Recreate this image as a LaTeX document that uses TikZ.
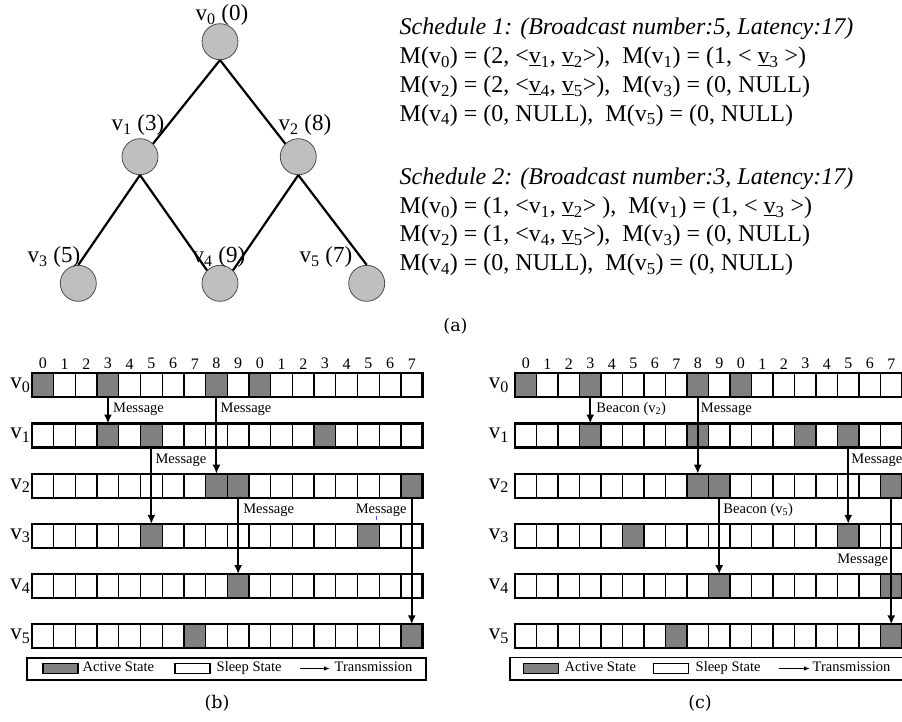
\documentclass[tikz,border=0pt]{standalone}
\usepackage{fontspec}
\setmainfont{Liberation Serif}
\newfontfamily\capfont{DejaVu Serif}
\usetikzlibrary{arrows.meta}
\usetikzlibrary{positioning}

\tikzset{
  treenode/.style={circle, draw=black!70, fill=gray!50, line width=0.8pt,
                   minimum size=36pt, inner sep=0pt},
  treelabel/.style={font=\fontsize{23}{25}\selectfont, inner sep=0pt},
  treeedge/.style={line width=2.2pt},
  schedline/.style={font=\fontsize{24}{28}\selectfont, anchor=base west, inner sep=0pt},
  slot/.style={draw, line width=1.3pt, fill=white, inner sep=0pt, outer sep=0pt,
               minimum height=24pt},
  activeslot/.style={draw, line width=1.3pt, fill=gray},
  rowframe/.style={draw, line width=2.3pt},
  rowlabel/.style={font=\fontsize{23}{25}\selectfont, inner sep=0pt},
  slotnum/.style={font=\fontsize{16}{18}\selectfont, inner sep=0pt},
  msg/.style={-{Latex[length=9pt,width=8pt]}, line width=2pt},
  msglabel/.style={font=\fontsize{14.5}{16}\selectfont, inner sep=1pt,
                   text height=0.7em, text depth=0.2em},
  keyframe/.style={draw, line width=1.5pt},
  keybox/.style={draw, line width=1.2pt, minimum width=35pt, minimum height=10pt,
                 inner sep=0pt},
  keytext/.style={font=\fontsize{14.5}{16}\selectfont, inner sep=0pt, anchor=west,
                  text height=0.7em, text depth=0.2em},
  keyarrow/.style={-{Latex[length=6pt,width=4.5pt]}, line width=1.2pt},
  caption/.style={font=\capfont\fontsize{17.5}{20}\selectfont, inner sep=0pt}
}

\begin{document}
\begin{tikzpicture}[x=1pt,y=-1pt]
\useasboundingbox (0,0) rectangle (902,721);

% (a) the tree
\node[treenode] (v0) at (220,41.7) {};
\node[treenode] (v1) at (140,156.7) {};
\node[treenode] (v2) at (298.3,156.7) {};
\node[treenode] (v3) at (78.3,283.3) {};
\node[treenode] (v4) at (220,283.3) {};
\node[treenode] (v5) at (366.7,283.3) {};

\draw[treeedge] (v0.south) -- (v1.north east);
\draw[treeedge] (v0.south) -- (v2.north west);
\draw[treeedge] (v1.south) -- (v3.north);
\draw[treeedge] (v1.south) -- (v4.north west);
\draw[treeedge] (v2.south) -- (v4.north east);
\draw[treeedge] (v2.south) -- (v5.north);

\node[treelabel] (lv0) at (222,15) {v\textsubscript{0} (0)};
\node[treelabel] (lv1) at (138,125) {v\textsubscript{1} (3)};
\node[treelabel] (lv2) at (305,125) {v\textsubscript{2} (8)};
\node[treelabel] (lv3) at (54,257) {v\textsubscript{3} (5)};
\node[treelabel] (lv4) at (219,257) {v\textsubscript{4} (9)};
\node[treelabel] (lv5) at (326,257) {v\textsubscript{5} (7)};

% the two schedules
\node[schedline] (s1t) at (399.5,34) {\textit{Schedule 1: (Broadcast number:5, Latency:17)}};
\node[schedline] (s1a) at (399.5,63.5) {M(v\textsubscript{0}) = (2, <\underline{v}\textsubscript{1}, \underline{v}\textsubscript{2}>),\ \ M(v\textsubscript{1}) = (1, < \underline{v}\textsubscript{3} >)};
\node[schedline] (s1b) at (399.5,92.5) {M(v\textsubscript{2}) = (2, <\underline{v}\textsubscript{4}, \underline{v}\textsubscript{5}>),\ \ M(v\textsubscript{3}) = (0, NULL)};
\node[schedline] (s1c) at (399.5,121) {M(v\textsubscript{4}) = (0, NULL),\ \ M(v\textsubscript{5}) = (0, NULL)};
\node[schedline] (s2t) at (399.5,184) {\textit{Schedule 2: (Broadcast number:3, Latency:17)}};
\node[schedline] (s2a) at (399.5,213.3) {M(v\textsubscript{0}) = (1, <v\textsubscript{1}, \underline{v}\textsubscript{2}> ),\ \ M(v\textsubscript{1}) = (1, < \underline{v}\textsubscript{3} >)};
\node[schedline] (s2b) at (399.5,241.7) {M(v\textsubscript{2}) = (1, <v\textsubscript{4}, \underline{v}\textsubscript{5}>),\ \ M(v\textsubscript{3}) = (0, NULL)};
\node[schedline] (s2c) at (399.5,270.5) {M(v\textsubscript{4}) = (0, NULL),\ \ M(v\textsubscript{5}) = (0, NULL)};

\node[caption] (capa) at (455.5,326.5) {(a)};

% (b) time slots, schedule 1
\foreach \r in {0,...,5} {
  \foreach \c in {0,...,17} {
    \node[slot, minimum width=21.7pt] (b\r-\c) at ({32+21.7*(\c+0.5)},{385.3+50.2*\r}) {};
  }
}
\foreach \r/\act in {0/{0,3,8,10}, 1/{3,5,13}, 2/{8,9,17}, 3/{5,15}, 4/{9}, 5/{7,17}} {
  \foreach \c in \act {
    \draw[activeslot] (b\r-\c.south west) rectangle (b\r-\c.north east);
  }
}
\foreach \r in {0,...,5} {
  \draw[rowframe] (b\r-0.north west) rectangle (b\r-17.south east);
  \node[rowlabel, anchor=east] (bv\r) at ([xshift=-1.5pt]b\r-0.west) {v\textsubscript{\r}};
}
\foreach \c [evaluate=\c as \d using {int(mod(\c,10))}] in {0,...,17} {
  \node[slotnum, above=4pt of b0-\c] (bn\c) {\d};
}

\draw[msg] (b0-3.south) -- (b1-3.north);
\node[msglabel, anchor=west] (bm1) at ([xshift=4pt,yshift=-13pt]b0-3.south) {Message};
\draw[msg] (b0-8.south) -- (b2-8.north);
\node[msglabel, anchor=west] (bm2) at ([xshift=3pt,yshift=-13pt]b0-8.south) {Message};
\draw[msg] (b1-5.south) -- (b3-5.north);
\node[msglabel, anchor=west] (bm3) at ([xshift=3pt,yshift=-13pt]b1-5.south) {Message};
\draw[msg] (b2-9.south) -- (b4-9.north);
\node[msglabel, anchor=west] (bm4) at ([xshift=4pt,yshift=-13pt]b2-9.south) {Message};
\draw[msg] (b2-17.south) -- (b5-17.north);
\node[msglabel, anchor=east] (bm5) at ([xshift=-4pt,yshift=-13pt]b2-17.south) {Message};
\draw[blue!70, line width=0.8pt] ([xshift=-5pt]bm5.south) -- ++(0,4);

% legend (b)
\draw[keyframe] (27,658) rectangle (426,680);
\node[keybox, fill=gray] (bkA) at (60.5,668.5) {};
\node[keytext] (bkAt) at (82.5,668.5) {Active State};
\node[keybox, fill=white] (bkS) at (192.5,668.5) {};
\node[keytext] (bkSt) at (216.5,668.5) {Sleep State};
\coordinate (bkT0) at (300,668.5);
\coordinate (bkT1) at (330,668.5);
\draw[keyarrow] (bkT0) -- (bkT1);
\node[keytext] (bkTt) at (334.5,668.5) {Transmission};

\node[caption] (capb) at (217,703) {(b)};

% (c) time slots, schedule 2
\foreach \r in {0,...,5} {
  \foreach \c in {0,...,17} {
    \node[slot, minimum width=21.5pt] (c\r-\c) at ({515+21.5*(\c+0.5)},{385.3+50.2*\r}) {};
  }
}
\foreach \r/\act in {0/{0,3,8,10}, 1/{3,8,13,15}, 2/{8,9,17}, 3/{5,15}, 4/{9,17}, 5/{7,17}} {
  \foreach \c in \act {
    \draw[activeslot] (c\r-\c.south west) rectangle (c\r-\c.north east);
  }
}
\foreach \r in {0,...,5} {
  \draw[rowframe] (c\r-0.north west) rectangle (c\r-17.south east);
  \node[rowlabel, anchor=east] (cv\r) at ([xshift=-6pt]c\r-0.west) {v\textsubscript{\r}};
}
\foreach \c [evaluate=\c as \d using {int(mod(\c,10))}] in {0,...,17} {
  \node[slotnum, above=4pt of c0-\c] (cn\c) {\d};
}

\draw[msg] (c0-3.south) -- (c1-3.north);
\node[msglabel, anchor=west] (cm1) at ([xshift=5pt,yshift=-13pt]c0-3.south) {Beacon (v\textsubscript{2})};
\draw[msg] (c0-8.south) -- (c2-8.north);
\node[msglabel, anchor=west] (cm2) at ([xshift=2pt,yshift=-13pt]c0-8.south) {Message};
\draw[msg] (c1-15.south) -- (c3-15.north);
\node[msglabel, anchor=west] (cm3) at ([xshift=2pt,yshift=-13pt]c1-15.south) {Message};
\draw[msg] (c2-9.south) -- (c4-9.north);
\node[msglabel, anchor=west] (cm4) at ([xshift=3pt,yshift=-13pt]c2-9.south) {Beacon (v\textsubscript{5})};
\draw[msg] (c2-17.south) -- (c5-17.north);
\node[msglabel, anchor=east] (cm5) at ([xshift=-2pt,yshift=-13pt]c3-17.south) {Message};

% legend (c)
\draw[keyframe] (510,657.5) rectangle (910,680);
\node[keybox, fill=gray] (ckA) at (541,668.5) {};
\node[keytext] (ckAt) at (564.5,668.5) {Active State};
\node[keybox, fill=white] (ckS) at (671,668.5) {};
\node[keytext] (ckSt) at (695.5,668.5) {Sleep State};
\coordinate (ckT0) at (779,668.5);
\coordinate (ckT1) at (810,668.5);
\draw[keyarrow] (ckT0) -- (ckT1);
\node[keytext] (ckTt) at (812.5,668.5) {Transmission};

\node[caption] (capc) at (700,703) {(c)};
\end{tikzpicture}
\end{document}
